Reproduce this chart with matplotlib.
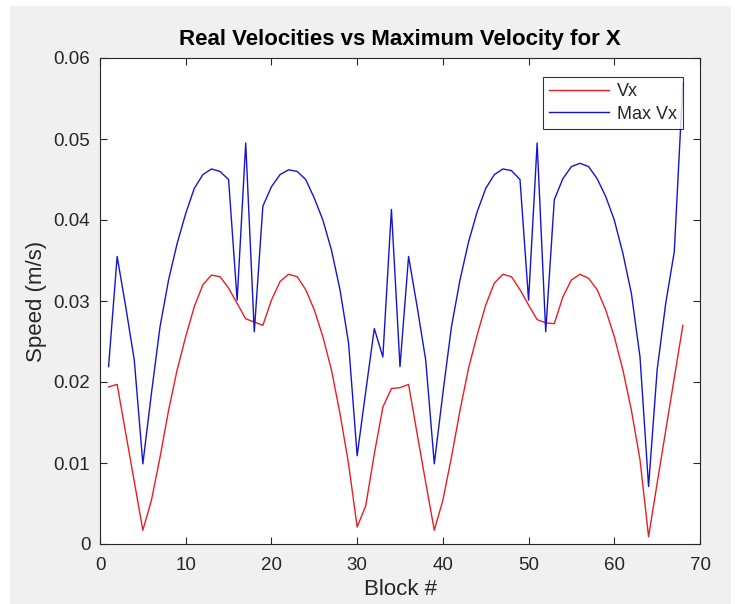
import matplotlib

matplotlib.use("Agg")
import matplotlib.pyplot as plt
from matplotlib.patches import Rectangle

plt.rcParams["font.family"] = ["Liberation Sans", "DejaVu Sans"]

# block index along the track
blocks = list(range(1, 69))

# actual x-velocity per block (m/s)
vx = [
    0.0194, 0.0197, 0.0137, 0.0077, 0.0017, 0.0054, 0.0107, 0.0165, 0.0215, 0.0256,
    0.0293, 0.0320, 0.0332, 0.0330, 0.0316, 0.0297, 0.0278, 0.0274, 0.0270, 0.0301,
    0.0324, 0.0333, 0.0330, 0.0314, 0.0289, 0.0256, 0.0215, 0.0161, 0.0099, 0.0021,
    0.0047, 0.0111, 0.0169, 0.0192, 0.0193, 0.0197, 0.0136, 0.0076, 0.0017, 0.0054,
    0.0107, 0.0165, 0.0217, 0.0258, 0.0295, 0.0322, 0.0333, 0.0330, 0.0314, 0.0295,
    0.0277, 0.0273, 0.0272, 0.0305, 0.0326, 0.0333, 0.0328, 0.0314, 0.0289, 0.0256,
    0.0215, 0.0165, 0.0104, 0.0009, 0.0075, 0.0140, 0.0205, 0.0270,
]

# maximum allowed x-velocity per block (m/s)
max_vx = [
    0.0219, 0.0355, 0.0293, 0.0227, 0.0099, 0.0186, 0.0268, 0.0326, 0.0371, 0.0408,
    0.0439, 0.0456, 0.0463, 0.0460, 0.0450, 0.0301, 0.0495, 0.0262, 0.0417, 0.0441,
    0.0456, 0.0462, 0.0460, 0.0450, 0.0427, 0.0400, 0.0363, 0.0314, 0.0248, 0.0109,
    0.0188, 0.0266, 0.0231, 0.0413, 0.0219, 0.0355, 0.0293, 0.0227, 0.0099, 0.0186,
    0.0268, 0.0326, 0.0373, 0.0410, 0.0439, 0.0456, 0.0463, 0.0461, 0.0450, 0.0301,
    0.0495, 0.0262, 0.0425, 0.0451, 0.0466, 0.0470, 0.0466, 0.0451, 0.0429, 0.0400,
    0.0359, 0.0309, 0.0231, 0.0071, 0.0215, 0.0297, 0.0361, 0.0569,
]

x_ticks = [0, 10, 20, 30, 40, 50, 60, 70]
y_ticks = [0, 0.01, 0.02, 0.03, 0.04, 0.05, 0.06]
y_tick_labels = ["0", "0.01", "0.02", "0.03", "0.04", "0.05", "0.06"]

W, H = 740, 604
fig = plt.figure(figsize=(W / 100, H / 100), dpi=100, facecolor="white")
# grey figure panel with a thin white margin, kept behind the axes
fig.patches.append(Rectangle((10 / W, 0), (731 - 10) / W, (H - 6) / H,
                             transform=fig.transFigure, facecolor="#f0f0f0",
                             edgecolor="none", zorder=-10))

ax = fig.add_axes([100 / W, 1 - 544 / H, 600 / W, 486 / H])
ax.set_facecolor("white")

ax.plot(blocks, vx, color="#ec1c24", lw=1.0, label="Vx")
ax.plot(blocks, max_vx, color="#1414d2", lw=1.0, label="Max Vx")

ax.set_xlim(0, 70)
ax.set_ylim(0, 0.06)
ax.set_xticks(x_ticks)
ax.set_yticks(y_ticks)
ax.set_yticklabels(y_tick_labels)

dark = "#262626"
for s in ax.spines.values():
    s.set_color(dark)
    s.set_linewidth(0.8)
ax.tick_params(direction="in", length=5, width=0.8, colors=dark, labelsize=13.5,
               top=True, right=True, pad=7)
ax.tick_params(axis="x", pad=9)

ax.set_xlabel("Block #", fontsize=16, color=dark, labelpad=4)
ax.set_ylabel("Speed (m/s)", fontsize=16, color=dark, labelpad=5)
ax.set_title("Real Velocities vs Maximum Velocity for X", fontsize=16,
             fontweight="bold", color="black", pad=9)

leg = ax.legend(loc="upper right", bbox_to_anchor=(583 / 600, (544 - 77) / 486),
                borderaxespad=0, fontsize=13, frameon=True, fancybox=False,
                handlelength=3.3, handletextpad=0.45, labelspacing=0.3,
                borderpad=0.35)
leg.get_frame().set_edgecolor("black")
leg.get_frame().set_linewidth(0.8)
for t in leg.get_texts():
    t.set_color(dark)

fig.savefig("out.png", dpi=100, facecolor=fig.get_facecolor())
